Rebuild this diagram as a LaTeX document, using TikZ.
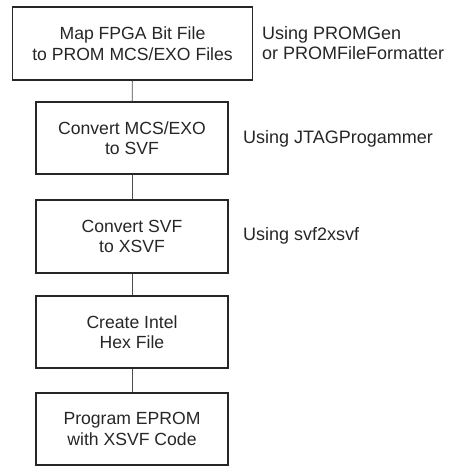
\documentclass[tikz,border=0pt]{standalone}
\usepackage{fontspec}
\setmainfont{Liberation Sans}
\begin{document}
\begin{tikzpicture}[x=1pt,y=1pt,
  stepbox/.style={draw=black!85, line width=1.4pt, minimum width=192pt, minimum height=72pt,
    align=center, inner sep=0pt, font=\fontsize{17.6}{20.5}\selectfont, text=black!85},
  note/.style={anchor=west, align=left, inner sep=0pt, font=\fontsize{18}{20.5}\selectfont, text=black!85},
  link/.style={draw=black!70, line width=0.9pt}]
\useasboundingbox (0,0) rectangle (451,-466);
\node[stepbox, minimum width=240pt, minimum height=73pt] (b1) at (132.5,-43.5) {Map FPGA Bit File\\to PROM MCS/EXO Files};
\node[stepbox] (b2) at (132,-138) {Convert MCS/EXO\\to SVF};
\node[stepbox, minimum height=73pt] (b3) at (132,-236.5) {Convert SVF\\to XSVF};
\node[stepbox] (b4) at (132,-332) {Create Intel\\Hex File};
\node[stepbox] (b5) at (132,-429) {Program EPROM\\with XSVF Code};
\draw[link] (b1) -- (b2);
\draw[link] (b2) -- (b3);
\draw[link] (b3) -- (b4);
\draw[link] (b4) -- (b5);
\node[note] (n1) at (262,-43) {Using PROMGen\\or PROMFileFormatter};
\node[note] (n2) at (243,-139) {Using JTAGProgammer};
\node[note] (n3) at (243,-236) {Using svf2xsvf};
\end{tikzpicture}
\end{document}
